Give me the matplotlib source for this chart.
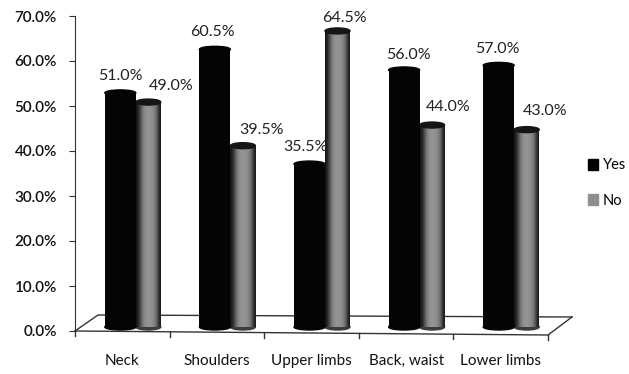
import matplotlib
matplotlib.use("Agg")
import matplotlib.pyplot as plt
import numpy as np
from matplotlib.patches import Ellipse, Rectangle

categories = ["Neck", "Shoulders", "Upper limbs", "Back, waist", "Lower limbs"]
yes_values = [51.0, 60.5, 35.5, 56.0, 57.0]
no_values = [49.0, 39.5, 64.5, 44.0, 43.0]
y_ticks = [0, 10, 20, 30, 40, 50, 60, 70]

plt.rcParams['font.family'] = ['Lato', 'DejaVu Sans']
W, H = 629, 374
fig = plt.figure(figsize=(W/100, H/100), dpi=100)
X0, X1, Y0, Y70 = 75, 548, 331, 16
ax = fig.add_axes([X0/W, 1-Y0/H, (X1-X0)/W, (Y0-Y70)/H])
ax.set_xlim(0, 5)
ax.set_ylim(0, 70)
PX = 5/(X1-X0)
PY = 70/(Y0-Y70)

# 3D look: bars stand back on the floor and are slightly enlarged by perspective
base = 4*PY
persp = 1.02
bw_yes, bw_no = 31*PX, 25*PX
ell_h = 6*PY
black = "#040404"
grey = "#8f8f8f"
grad = np.array([[.08, .24, .44, .55, .58, .58, .56, .50, .36, .10]])

def centers(i):
    c = i + .5
    return c - 2*PX, c + 26*PX

for i, (a, b) in enumerate(zip(yes_values, no_values)):
    xa, xb = centers(i)
    ax.add_patch(Ellipse((xb, base), bw_no, ell_h, color="#3c3c3c", zorder=3))
    ax.imshow(grad, extent=(xb-bw_no/2, xb+bw_no/2, base, base+b*persp), cmap="gray",
              vmin=0, vmax=1, aspect="auto", zorder=3, interpolation="bicubic")
    ax.add_patch(Ellipse((xb, base+b*persp), bw_no, ell_h, color="#151515", zorder=3.1))
    ax.bar(xa, a*persp, bottom=base, width=bw_yes, color=black, zorder=4)
    ax.add_patch(Ellipse((xa, base), bw_yes, ell_h, color=black, zorder=4))
    ax.add_patch(Ellipse((xa, base+a*persp), bw_yes, ell_h, color=black, zorder=4))

# label offsets in pixels from the bar tops
yes_off = [(0, 17), (-2, 17), (-4, 17), (4, 15), (-1, 16)]
no_off = [(23, 16), (19, 16), (7, 13), (16, 18), (18, 19)]
for i, (a, b) in enumerate(zip(yes_values, no_values)):
    xa, xb = centers(i)
    for x, v, off in ((xa, a, yes_off[i]), (xb, b, no_off[i])):
        ax.annotate(f"{v:.1f}%", (x, base+v*persp), xytext=(off[0]*.72, off[1]*.72),
                    textcoords="offset points", ha="center", va="center",
                    fontsize=11.5, color="#222222", zorder=6, annotation_clip=False)

# floor parallelogram
line = dict(color="#333333", lw=1, clip_on=False)
ax.plot([0, 23*PX, 497*PX], [0, 16*PY, 14*PY], zorder=1, **line)
ax.plot([0, 473*PX, 497*PX], [0, -4*PY, 14*PY], zorder=1, **line)

for s in ("top", "right", "bottom"):
    ax.spines[s].set_visible(False)
ax.spines["left"].set_color("#333333")
ax.set_yticks(y_ticks)
ax.set_yticklabels([f"{t:.1f}%" for t in y_ticks], fontsize=11, color="#111111", fontweight="semibold")
ax.tick_params(axis="y", length=4, color="#333333", pad=9)
ax.set_xticks([])
for i in range(6):
    yt = -i*(4/5)*PY
    ax.plot([i, i], [yt, yt-5*PY], zorder=1, **line)
for i, name in enumerate(categories):
    ax.annotate(name, (i+.5, 0), xytext=(0, -30*.72), textcoords="offset points",
                ha="center", va="center", fontsize=11, color="#111111", annotation_clip=False)

handles = [Rectangle((0, 0), 1, 1, color=black), Rectangle((0, 0), 1, 1, color=grey)]
fig.legend(handles, ["Yes", "No"], loc="center left", bbox_to_anchor=(588/W, 1-183/H),
           frameon=False, fontsize=10.5, handlelength=.68, handleheight=.85,
           handletextpad=.35, labelspacing=1.45, borderpad=0, borderaxespad=0)
fig.savefig("out.png", dpi=100)
